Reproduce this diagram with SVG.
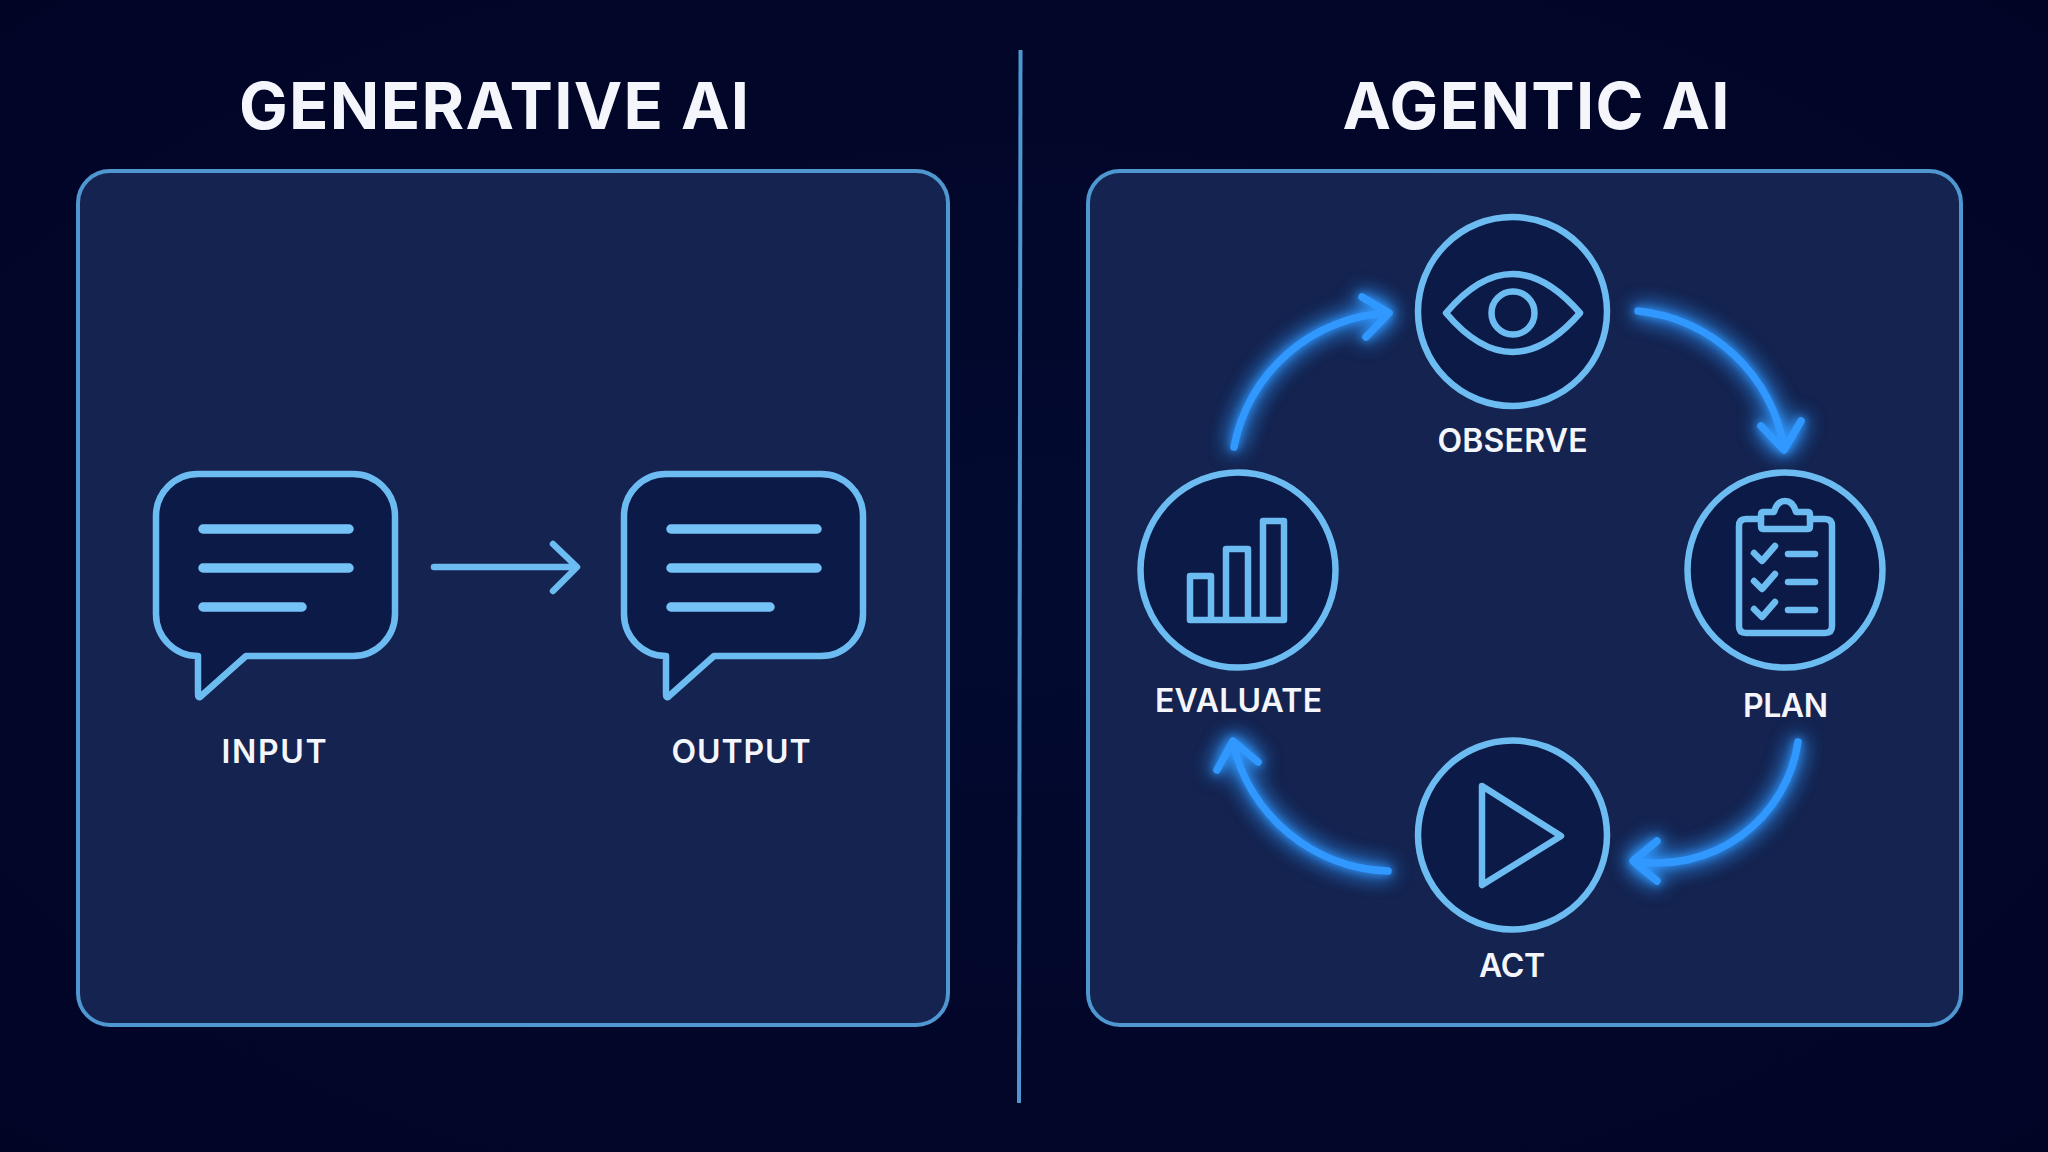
<svg xmlns="http://www.w3.org/2000/svg" width="2048" height="1152" viewBox="0 0 2048 1152">
<defs>
<filter id="glow" x="-30%" y="-30%" width="160%" height="160%" color-interpolation-filters="sRGB">
<feGaussianBlur in="SourceGraphic" stdDeviation="4" result="a"/>
<feGaussianBlur in="SourceGraphic" stdDeviation="11" result="b"/>
<feMerge><feMergeNode in="b"/><feMergeNode in="b"/><feMergeNode in="a"/><feMergeNode in="SourceGraphic"/></feMerge>
</filter>
<radialGradient id="bg" cx="50%" cy="50%" r="75%"><stop offset="0" stop-color="#030a30"/><stop offset="1" stop-color="#010425"/></radialGradient>
</defs>
<style>
.panel{fill:#14234f;stroke:#4f97d0;stroke-width:4}
.icon{fill:none;stroke:#6cbcf2;stroke-width:6.5;stroke-linecap:round;stroke-linejoin:round}
.shape{fill:#0b1a47;stroke:#6cbcf2;stroke-width:6.5;stroke-linecap:round;stroke-linejoin:round}
.rule{fill:none;stroke:#75c3f6;stroke-width:9.5;stroke-linecap:round}
.flow{fill:none;stroke:#3098ff;stroke-width:7.5;stroke-linecap:round;stroke-linejoin:round}
text{font-family:"Inter","Liberation Sans",sans-serif;fill:#f4f6fc;text-anchor:middle}
.title{font-size:65px;font-weight:700}
.label{font-size:32px;font-weight:600}
</style>
<rect width="2048" height="1152" fill="url(#bg)"/>
<path d="M1020.5 50L1019 1103" fill="none" stroke="#4f97d0" stroke-width="4"/>
<g id="title-generative"><text class="title" x="494" y="129" textLength="510">GENERATIVE AI</text></g>
<g id="title-agentic"><text class="title" x="1536" y="129" textLength="387">AGENTIC AI</text></g>
<g id="panel-generative"><rect class="panel" x="78" y="171" width="870" height="854" rx="32"/></g>
<g id="panel-agentic"><rect class="panel" x="1088" y="171" width="873" height="854" rx="32"/></g>

<g id="node-input">
<path class="shape" d="M198 474H353A42 42 0 0 1 395 516V614A42 42 0 0 1 353 656H246L200 697Q198 698 198 694V656A42 42 0 0 1 156 614V516A42 42 0 0 1 198 474Z"/>
<path class="rule" d="M203 529H349M203 568H349M203 607H302"/>
<text class="label" x="274" y="763" textLength="105">INPUT</text>
</g>
<g id="node-output">
<path class="shape" d="M666 474H821A42 42 0 0 1 863 516V614A42 42 0 0 1 821 656H714L668 697Q666 698 666 694V656A42 42 0 0 1 624 614V516A42 42 0 0 1 666 474Z"/>
<path class="rule" d="M671 529H817M671 568H817M671 607H770"/>
<text class="label" x="741" y="763" textLength="139">OUTPUT</text>
</g>
<g id="connector-left"><path class="icon" d="M434 567H576M553 544L577 567L553 591"/></g>

<g id="connectors" filter="url(#glow)">
<path class="flow" d="M1638 311A165 165 0 0 1 1784 448M1761 426L1784 450L1801 421"/>
<path class="flow" d="M1798 742A142 142 0 0 1 1634 861M1657 841L1633 861L1657 881"/>
<path class="flow" d="M1388 871A165 165 0 0 1 1233 743M1217 770L1233 741L1258 762"/>
<path class="flow" d="M1234 447A165 165 0 0 1 1388 313M1362 297L1389 313L1366 337"/>
</g>

<g id="node-observe">
<circle class="shape" cx="1512.5" cy="311.5" r="94.5" stroke-width="5.5"/>
<path class="icon" d="M1446 313Q1512 235 1580 313Q1512 391 1446 313Z"/>
<circle class="icon" cx="1513" cy="313" r="21.5"/>
<text class="label" x="1512.5" y="452" textLength="150">OBSERVE</text>
</g>
<g id="node-plan">
<circle class="shape" cx="1785" cy="570" r="97.5"/>
<path class="icon" d="M1761 519H1746Q1739 519 1739 526V626Q1739 633 1746 633H1825Q1832 633 1832 626V526Q1832 519 1825 519H1810"/>
<path class="icon" d="M1763 512H1774Q1777 501 1785 501Q1793 501 1796 512H1808Q1810 512 1810 515V526Q1810 529 1808 529H1763Q1761 529 1761 526V515Q1761 512 1763 512Z"/>
<path class="icon" d="M1754 553L1762 561L1775 546M1754 581L1762 589L1775 574M1754 609L1762 617L1775 602M1788 554H1815M1788 582H1815M1788 610H1815"/>
<text class="label" x="1785.5" y="717" textLength="85">PLAN</text>
</g>
<g id="node-act">
<circle class="shape" cx="1512.5" cy="835" r="94.5"/>
<path class="icon" d="M1482 786L1561 836L1482 885Z"/>
<text class="label" x="1512" y="977" textLength="66">ACT</text>
</g>
<g id="node-evaluate">
<circle class="shape" cx="1238" cy="570" r="97.5"/>
<path class="icon" stroke-linecap="square" stroke-linejoin="miter" d="M1190 620V576H1211V620M1226 620V549H1248V620M1263 620V521H1284V620M1190 620H1284"/>
<text class="label" x="1238.5" y="712" textLength="167">EVALUATE</text>
</g>
</svg>
